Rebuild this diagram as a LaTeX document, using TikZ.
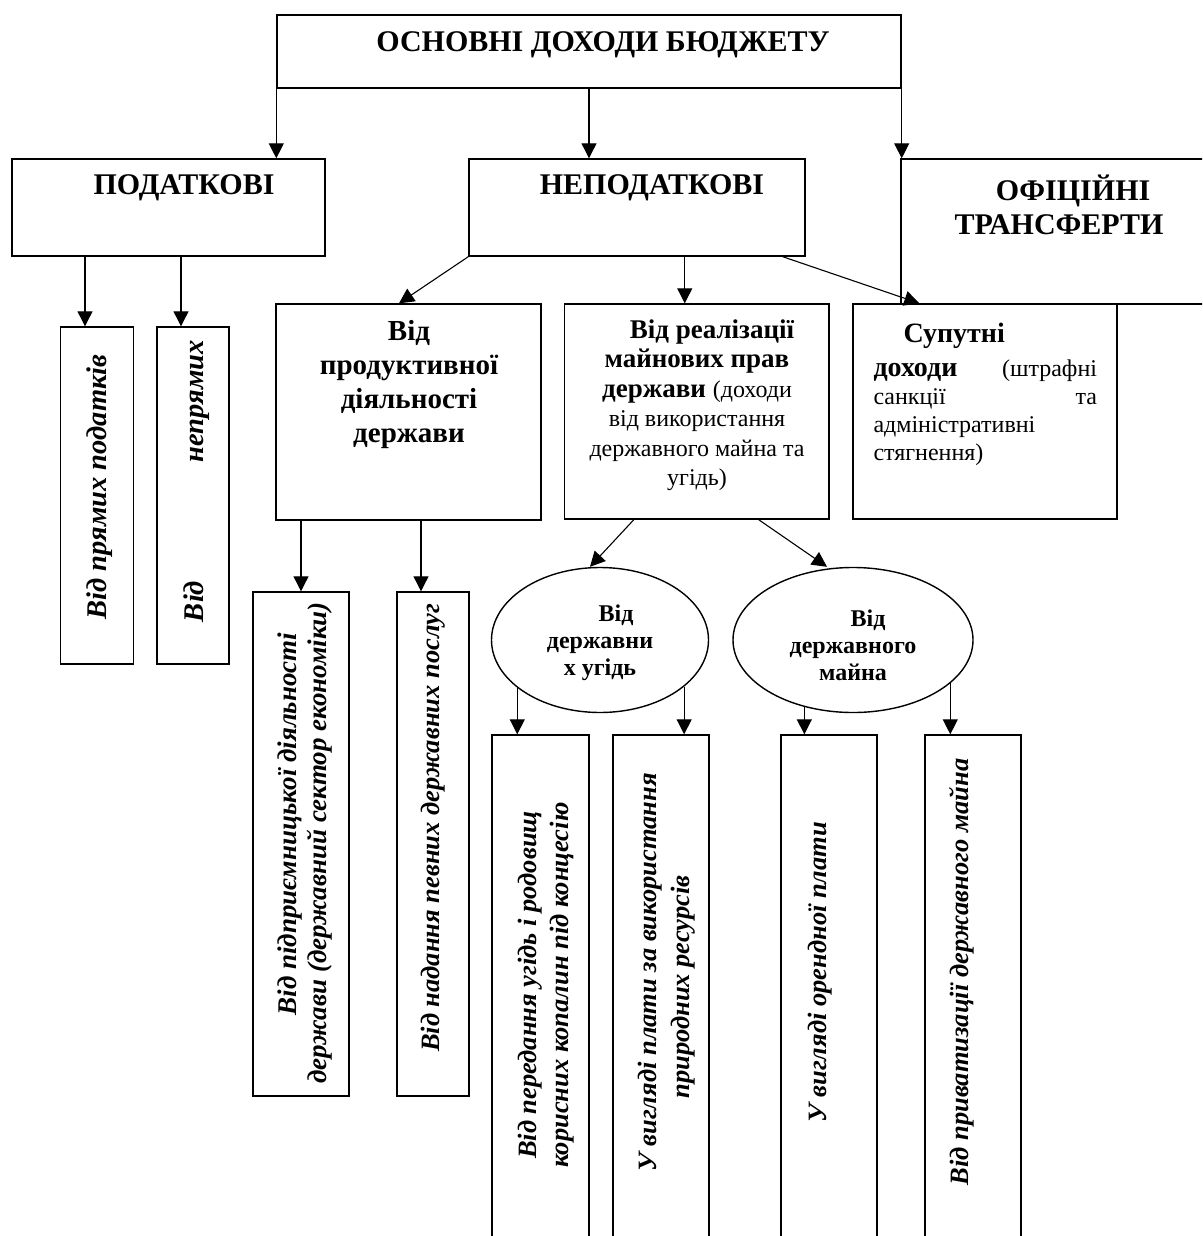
\documentclass[tikz,border=0pt]{standalone}
\usepackage{fontspec}
\setmainfont{Liberation Serif}
\usetikzlibrary{arrows.meta,shapes.geometric,positioning}

\begin{document}
\begin{tikzpicture}[x=1pt,y=-1pt]
	% Define node styles
	\tikzstyle{block} = [draw, line width=1.4pt, inner sep=0pt];
	\tikzstyle{oval} = [ellipse, draw, line width=1.4pt, inner sep=0pt];
	\tikzstyle{head} = [font=\bfseries\fontsize{30}{34}\selectfont, align=center, inner sep=0pt];
	\tikzstyle{small} = [font=\bfseries\fontsize{24}{27}\selectfont, align=center, inner sep=0pt];
	\tikzstyle{vert} = [rotate=90, font=\bfseries\itshape\fontsize{26.5}{32}\selectfont, align=center, inner sep=0pt];
	\tikzstyle{arr} = [-{Triangle[length=15pt,width=15pt]}, line width=1.1pt];

	\useasboundingbox (0,0) rectangle (1202,1236);
	\clip (0,0) rectangle (1202,1236);

	% Top level
	\node[block, minimum width=624pt, minimum height=73pt] (budget) at (589,51.5) {};
	\node[head] (budgettext) at (603,45) {ОСНОВНІ ДОХОДИ БЮДЖЕТУ};

	% Second level
	\node[block, minimum width=313pt, minimum height=97pt] (tax) at (168.5,207.5) {};
	\node[head] (taxtext) at (184,188) {ПОДАТКОВІ};
	\node[block, minimum width=336pt, minimum height=97pt] (nontax) at (637,207.5) {};
	\node[head] (nontaxtext) at (652,188) {НЕПОДАТКОВІ};
	\node[block, minimum width=329pt, minimum height=145pt] (transf) at (1065.5,231.5) {};
	\node[head] (transftext) at (1059,205) {\hspace*{28pt}ОФІЦІЙНІ\\ТРАНСФЕРТИ};

	% Tax kinds
	\node[block, minimum width=72.5pt, minimum height=337pt] (direct) at (97,495.5) {};
	\node[vert, font=\bfseries\itshape\fontsize{28.5}{32}\selectfont] (directtext) at (100,487) {Від прямих податків};
	\node[block, minimum width=72pt, minimum height=337pt] (indirect) at (193,495.5) {};
	\node[vert, text width=282pt, font=\bfseries\itshape\fontsize{28.5}{32}\selectfont] (indirecttext) at (197,481) {Від\hfill непрямих};

	% Non-tax kinds
	\node[block, minimum width=265pt, minimum height=216pt] (product) at (408.5,412) {};
	\node[head, font=\bfseries\fontsize{29}{34}\selectfont] (producttext) at (409,385)
		{Від\\продуктивної\\діяльності\\держави};
	\node[block, minimum width=264.5pt, minimum height=215pt] (rights) at (696.75,411.5) {};
	\node[head, font=\bfseries\fontsize{27}{29.5}\selectfont] (rightstext) at (697,405)
		{\hspace*{30pt}Від реалізації\\майнових прав\\держави {\mdseries\fontsize{24}{29.5}\selectfont(доходи}\\
		{\mdseries\fontsize{24}{29.5}\selectfont від використання}\\
		{\mdseries\fontsize{24}{29.5}\selectfont державного майна та}\\
		{\mdseries\fontsize{24}{29.5}\selectfont угідь)}};
	\node[block, minimum width=264pt, minimum height=215pt] (side) at (985,411.5) {};
	\node[inner sep=0pt, text width=223.5pt, align=left, font=\fontsize{24}{28}\selectfont] (sidetext) at (985.25,394)
		{\hspace*{30pt}{\bfseries\fontsize{28}{28}\selectfont Супутні}\\[6pt]
		{\bfseries\fontsize{28}{28}\selectfont доходи}\hfill(штрафні\\
		санкції\hfill та\\
		адміністративні\\
		стягнення)};

	% Productive activity
	\node[block, minimum width=96pt, minimum height=504pt] (enterprise) at (301,844) {};
	\node[vert, font=\bfseries\itshape\fontsize{27}{30}\selectfont] (enterprisetext) at (305,843)
		{\hspace*{38pt}Від підприємницької діяльності\\держави (державний сектор економіки)};
	\node[block, minimum width=72pt, minimum height=504pt] (services) at (433,844) {};
	\node[vert] (servicestext) at (433,828) {Від надання певних державних послуг};

	% Property rights
	\node[oval, minimum width=217pt, minimum height=145pt] (lands) at (600,640) {};
	\node[small] (landstext) at (600,643) {\hspace*{32pt}Від\\державни\\х угідь};
	\node[oval, minimum width=240pt, minimum height=145pt] (property) at (853,640) {};
	\node[small] (propertytext) at (853,645) {\hspace*{30pt}Від\\державного\\майна};

	\node[block, minimum width=97pt, minimum height=510pt] (concession) at (540.5,990) {};
	\node[vert] (concessiontext) at (546,985)
		{Від передання угідь і родовищ\\корисних копалин під концесію};
	\node[block, minimum width=96pt, minimum height=510pt] (resources) at (661,990) {};
	\node[vert, font=\bfseries\itshape\fontsize{26.5}{33}\selectfont] (resourcestext) at (666.5,972)
		{У вигляді плати за використання\\природних ресурсів\hspace*{30pt}};
	\node[block, minimum width=96pt, minimum height=510pt] (rent) at (829,990) {};
	\node[vert] (renttext) at (820,972) {У вигляді орендної плати};
	\node[block, minimum width=96pt, minimum height=510pt] (privat) at (973,990) {};
	\node[vert] (privattext) at (962,972) {Від приватизації державного майна};

	% Connections
	\draw[arr] (budget.south west) -- (budget.south west |- tax.north);
	\draw[arr] (budget.south) -- (budget.south |- nontax.north);
	\draw[arr] (budget.south east) -- (budget.south east |- transf.north);

	\draw[arr] ([xshift=-12pt]direct.north |- tax.south) -- ([xshift=-12pt]direct.north);
	\draw[arr] ([xshift=-12pt]indirect.north |- tax.south) -- ([xshift=-12pt]indirect.north);

	\draw[arr] (nontax.south west) -- ([xshift=-9.5pt]product.north);
	\draw[arr] ([xshift=-12pt]rights.north |- nontax.south) -- ([xshift=-12pt]rights.north);
	\draw[arr] ([xshift=-23pt]nontax.south east) -- ([xshift=67pt]side.north west);

	\draw[arr] (enterprise.north |- product.south) -- (enterprise.north);
	\draw[arr] ([xshift=-12pt]services.north |- product.south) -- ([xshift=-12pt]services.north);

	\draw[arr] ([xshift=70pt]rights.south west) -- ([xshift=-10pt]lands.north);
	\draw[arr] ([xshift=-71pt]rights.south east) -- ([xshift=-26pt]property.north);

	\draw[arr] (lands.210) -- (lands.210 |- concession.north);
	\draw[arr] (lands.331) -- (lands.331 |- resources.north);
	\draw[arr] (property.234) -- (property.234 |- rent.north);
	\draw[arr] (property.336) -- (property.336 |- privat.north);
\end{tikzpicture}
\end{document}
